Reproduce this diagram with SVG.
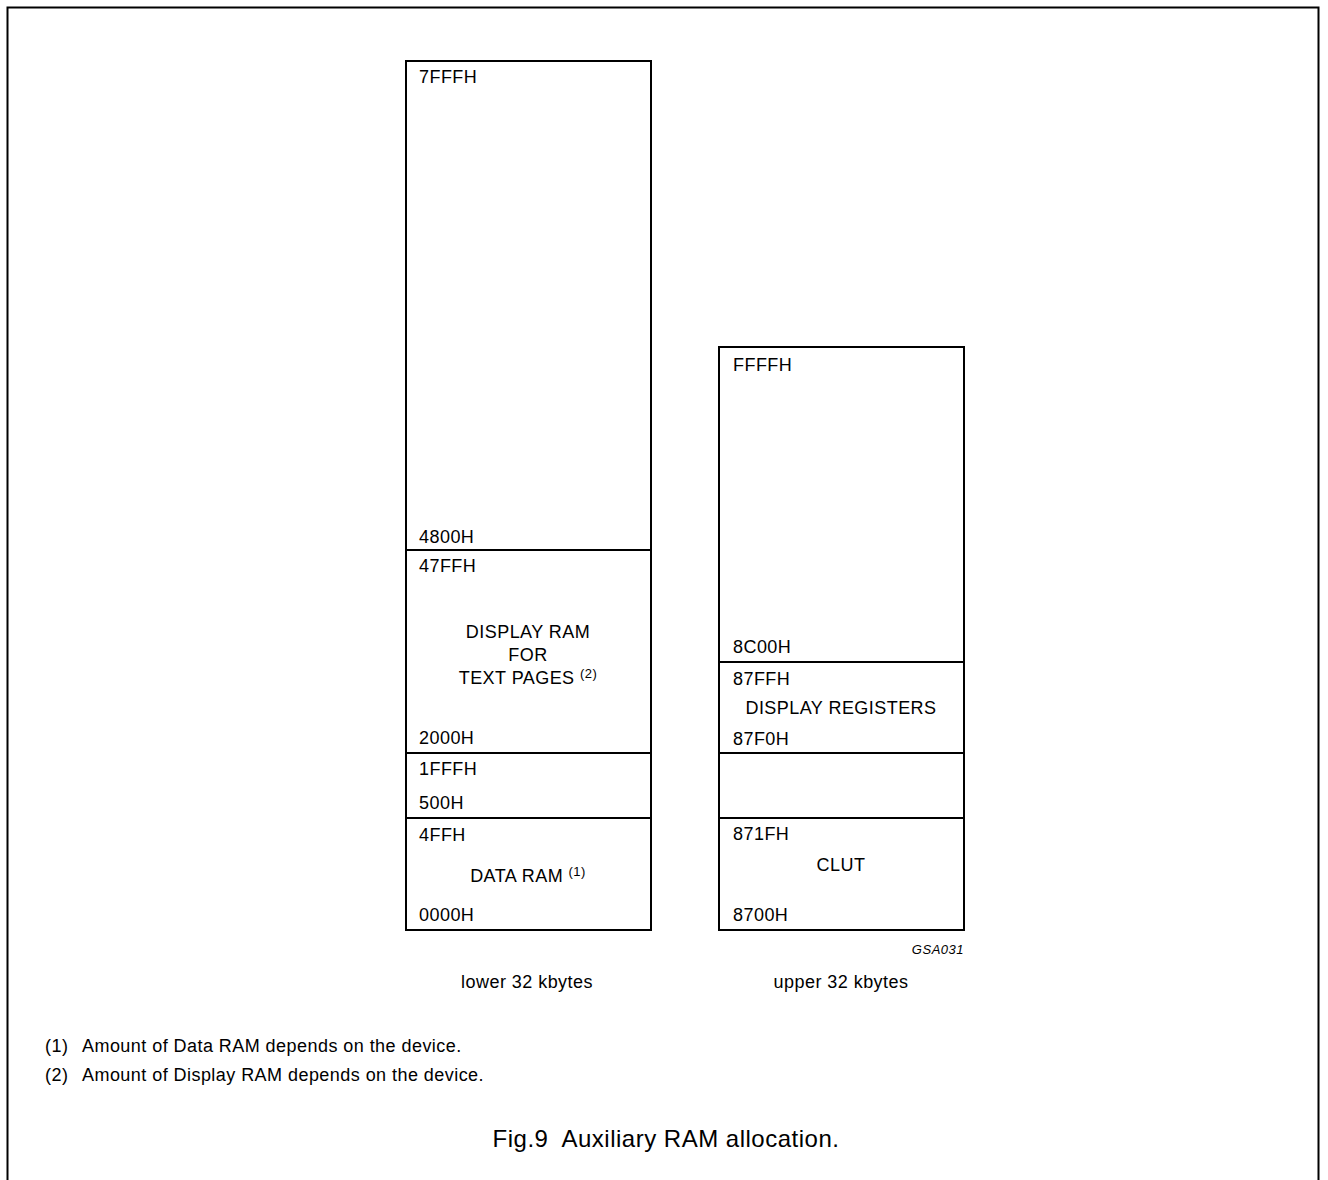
<svg xmlns="http://www.w3.org/2000/svg" width="1328" height="1180" viewBox="0 0 1328 1180">
<style>
text{font-family:"Liberation Sans",Arial,sans-serif;fill:#000;letter-spacing:0.45px}
.l{font-size:18px}
.c{font-size:18px;text-anchor:middle}
.s{font-size:13px}
.box{fill:#fff;stroke:#000;stroke-width:2}
.div{stroke:#000;stroke-width:2}
</style>
<rect width="1328" height="1180" fill="#fff"/>
<path d="M7.5 1180 V7.5 H1318.5 V1180" fill="none" stroke="#000" stroke-width="2"/>
<g id="lower">
<rect class="box" x="406" y="61" width="245" height="869"/>
<line class="div" x1="406" y1="550" x2="651" y2="550"/>
<line class="div" x1="406" y1="753" x2="651" y2="753"/>
<line class="div" x1="406" y1="818" x2="651" y2="818"/>
<text class="l" x="419" y="83">7FFFH</text>
<text class="l" x="419" y="543">4800H</text>
<text class="l" x="419" y="572">47FFH</text>
<text class="c" x="528" y="638">DISPLAY RAM</text>
<text class="c" x="528" y="661">FOR</text>
<text class="c" x="528" y="684">TEXT PAGES <tspan class="s" dy="-6">(2)</tspan></text>
<text class="l" x="419" y="744">2000H</text>
<text class="l" x="419" y="775">1FFFH</text>
<text class="l" x="419" y="809">500H</text>
<text class="l" x="419" y="841">4FFH</text>
<text class="c" x="528" y="882">DATA RAM <tspan class="s" dy="-6">(1)</tspan></text>
<text class="l" x="419" y="921">0000H</text>
</g>
<g id="upper">
<rect class="box" x="719" y="347" width="245" height="583"/>
<line class="div" x1="719" y1="662" x2="964" y2="662"/>
<line class="div" x1="719" y1="753" x2="964" y2="753"/>
<line class="div" x1="719" y1="818" x2="964" y2="818"/>
<text class="l" x="733" y="371">FFFFH</text>
<text class="l" x="733" y="653">8C00H</text>
<text class="l" x="733" y="685">87FFH</text>
<text class="c" x="841" y="714">DISPLAY REGISTERS</text>
<text class="l" x="733" y="745">87F0H</text>
<text class="l" x="733" y="840">871FH</text>
<text class="c" x="841" y="871">CLUT</text>
<text class="l" x="733" y="921">8700H</text>
</g>
<g id="connectors"></g>
<text x="964" y="954" font-size="13" font-style="italic" text-anchor="end" style="letter-spacing:0.5px">GSA031</text>
<text class="c" x="527" y="988">lower 32 kbytes</text>
<text class="c" x="841" y="988">upper 32 kbytes</text>
<text class="l" x="45" y="1052">(1)</text>
<text class="l" x="82" y="1052">Amount of Data RAM depends on the device.</text>
<text class="l" x="45" y="1081">(2)</text>
<text class="l" x="82" y="1081">Amount of Display RAM depends on the device.</text>
<text x="666" y="1147" font-size="24" text-anchor="middle" style="letter-spacing:0.5px" xml:space="preserve">Fig.9  Auxiliary RAM allocation.</text>
</svg>
